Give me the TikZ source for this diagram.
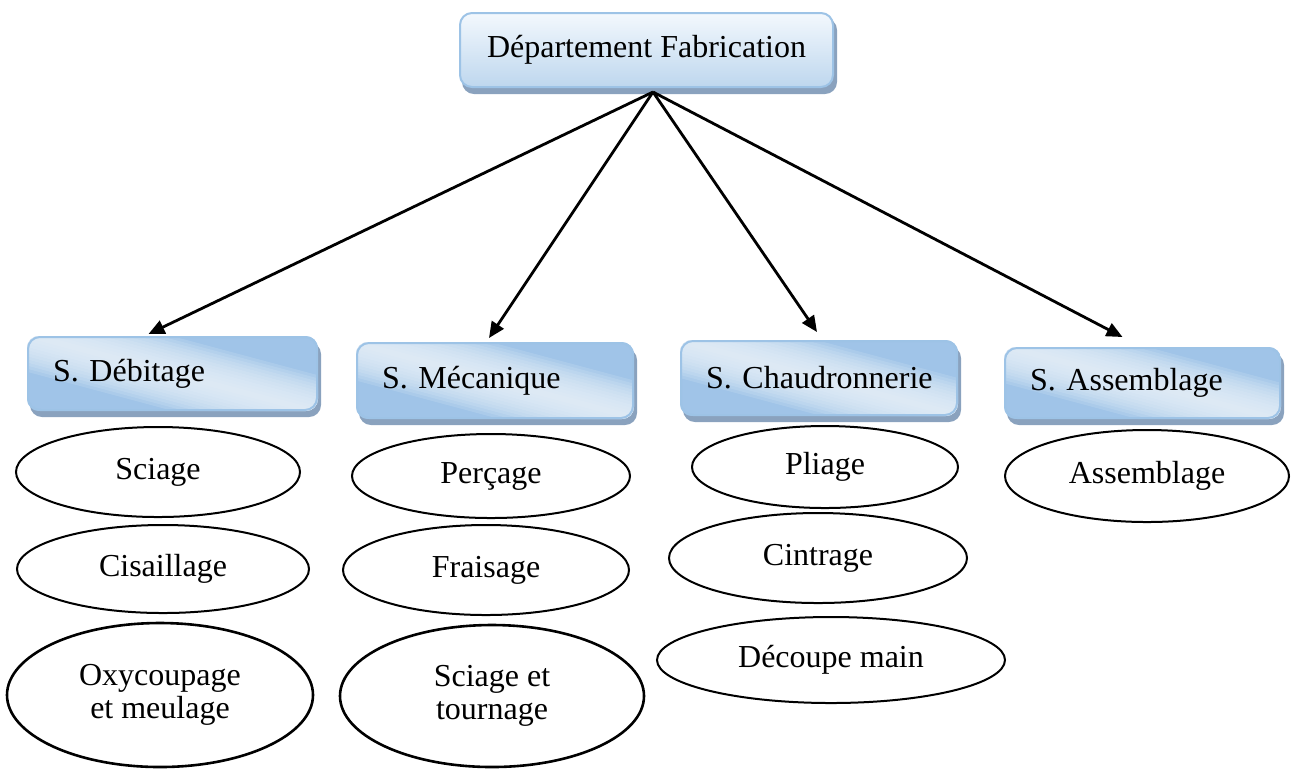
\documentclass[tikz,border=0pt]{standalone}
\usepackage{fontspec}
\setmainfont{Liberation Serif}
\usetikzlibrary{arrows.meta,shapes.geometric,backgrounds}

\definecolor{boxline}{RGB}{157,195,230}
\definecolor{boxdark}{RGB}{160,196,232}
\definecolor{boxlight}{RGB}{232,241,250}
\definecolor{boxtop}{RGB}{243,248,253}
\definecolor{boxbottom}{RGB}{190,215,238}
\definecolor{boxshadow}{RGB}{138,162,190}

\tikzset{
  dept/.style={draw=boxline, line width=1pt, rounded corners=6pt, inner sep=0pt,
    top color=boxtop, bottom color=boxbottom, minimum width=186.5pt, minimum height=37pt},
  service/.style={draw=boxline, line width=1pt, rounded corners=6pt, inner sep=0pt,
    inner xsep=2pt, align=left, text width=#1, execute at begin node=\hspace*{10.5pt}},
  task/.style={draw, ellipse, line width=1pt, inner sep=0pt, align=center},
  link/.style={-{Triangle[length=8pt,width=7pt]}, line width=1.4pt}
}

\begin{document}
\begin{tikzpicture}[x=0.5pt, y=-0.5pt, font=\fontsize{16}{16.5}\selectfont]

\useasboundingbox (0,0) rectangle (1293,768);

\node (dept) [dept] at (646.5,50) {Département Fabrication};

\node (debit) [service=140.5pt, minimum height=36.5pt] at (172.5,373.5) {S. Débitage};
\node (meca) [service=134pt, minimum height=37.5pt] at (495,380.5) {S. Mécanique};
\node (chaud) [service=134pt, minimum height=37pt] at (819,378) {S. Chaudronnerie};
\node (assem) [service=133.5pt, minimum height=35pt] at (1142.5,383) {S. Assemblage};

\node (sciage) [task, minimum width=142pt, minimum height=45pt] at (158,472) {Sciage};
\node (cisail) [task, minimum width=146pt, minimum height=44pt] at (163,569) {Cisaillage};
\node (oxy) [task, line width=1.3pt, minimum width=153pt, minimum height=72pt] at (160,695) {Oxycoupage\\et meulage};

\node (percage) [task, minimum width=139pt, minimum height=42pt] at (491,476) {Perçage};
\node (fraisage) [task, minimum width=143pt, minimum height=45pt] at (486,570) {Fraisage};
\node (tournage) [task, line width=1.3pt, minimum width=152pt, minimum height=71pt] at (492,696) {Sciage et\\tournage};

\node (pliage) [task, minimum width=133pt, minimum height=41pt] at (825,467) {Pliage};
\node (cintrage) [task, minimum width=149pt, minimum height=45pt] at (818,558) {Cintrage};
\node (decoupe) [task, minimum width=174pt, minimum height=43pt] at (831,660) {Découpe main};

\node (assemb) [task, minimum width=142pt, minimum height=46pt] at (1147,476) {Assemblage};

\coordinate (hub) at (653,92);

\draw[link] (hub) -- ([xshift=-12pt,yshift=1pt]debit.north);
\draw[link] (hub) -- ([xshift=-3pt,yshift=2pt]meca.north);
\draw[link] (hub) -- ([xshift=-1pt,yshift=4pt]chaud.north);
\draw[link] (hub) -- ([xshift=-10pt,yshift=5pt]assem.north);

% shadows and glossy fill behind the boxes
\begin{scope}[on background layer]
  \foreach \b in {dept,debit,meca,chaud,assem}
    \fill[boxshadow, rounded corners=6pt] ([shift={(1.5pt,-3pt)}]\b.south west)
      rectangle ([shift={(1.5pt,-3pt)}]\b.north east);
  \foreach \b in {debit,meca,chaud,assem} {
    \begin{scope}
      \clip[rounded corners=6pt] (\b.south west) rectangle (\b.north east);
      \fill[boxdark] (\b.south west) rectangle (\b.north east);
      \begin{scope}[shift={(\b.center)}, rotate=-15]
        \foreach \w in {1.5pt,3pt,4.5pt,6pt,7.5pt,9pt,10.5pt,12pt,13.5pt,15pt,16.5pt,18pt}
          \fill[boxlight, opacity=0.16] (-100pt,-\w) rectangle (100pt,\w);
      \end{scope}
    \end{scope}
  }
\end{scope}

\end{tikzpicture}
\end{document}
